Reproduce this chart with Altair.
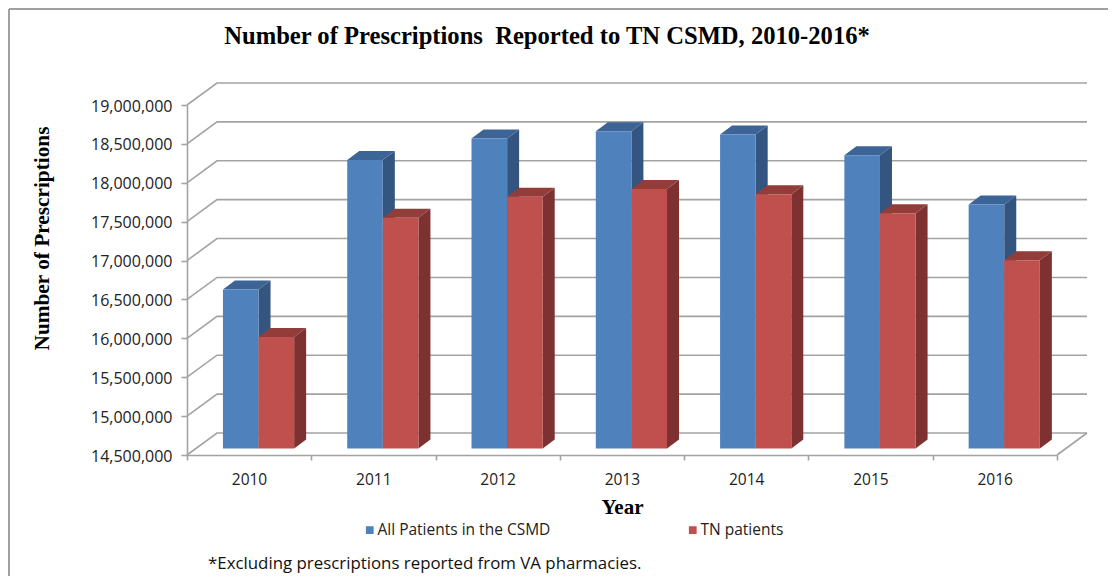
import altair as alt
import pandas as pd

years = [2010, 2011, 2012, 2013, 2014, 2015, 2016]
all_patients = [16543000, 18208000, 18485000, 18580000, 18537000, 18270000, 17638000]
tn_patients = [15933000, 17468000, 17738000, 17835000, 17770000, 17526000, 16920000]
series_names = ["All Patients in the CSMD", "TN patients"]
y_ticks = [14500000 + 500000 * i for i in range(10)]

W, H = 870, 350
Y0, Y1 = 14500000, 19000000
ux = 7 / W              # x units per pixel
uy = (Y1 - Y0) / H      # y units per pixel

# projection depths, pixels
WALL_DX, WALL_DY = 30, 22
PLANE_DX, PLANE_DY = 9.4, 6.5
SIDE_DX, SIDE_DY = 12, 9
BAR_W = 35.6

x_scale = alt.Scale(domain=[0, 7], nice=False, zero=False)
y_scale = alt.Scale(domain=[Y0, Y1], nice=False, zero=False)

grid_rows = []
for t in y_ticks:
    grid_rows += [
        {"line": t, "i": 0, "x": 0, "y": t},
        {"line": t, "i": 1, "x": WALL_DX * ux, "y": t + WALL_DY * uy},
        {"line": t, "i": 2, "x": 7 + WALL_DX * ux, "y": t + WALL_DY * uy},
    ]
grid_rows += [
    {"line": -1, "i": 0, "x": 7, "y": Y0},
    {"line": -1, "i": 1, "x": 7 + WALL_DX * ux, "y": Y0 + WALL_DY * uy},
]
grid_df = pd.DataFrame(grid_rows)

front, side, top = [], [], []
for s, (name, values) in enumerate(zip(series_names, [all_patients, tn_patients])):
    for i, (yr, v) in enumerate(zip(years, values)):
        mid = i + 0.5 + PLANE_DX * ux
        xl = mid + (s - 1) * BAR_W * ux
        xr = xl + BAR_W * ux
        base = Y0 + PLANE_DY * uy
        vt = v + PLANE_DY * uy
        sx, sy = SIDE_DX * ux, SIDE_DY * uy
        front.append({"series": name, "year": yr, "x": xl, "x2": xr, "y": vt, "y2": base})
        key = f"{name}{yr}"
        side += [
            {"series": name, "key": key, "x": xr, "y": vt, "y2": base},
            {"series": name, "key": key, "x": xr + sx, "y": vt + sy, "y2": base + sy},
        ]
        top += [
            {"series": name, "key": key, "x": xl, "y": vt, "y2": vt},
            {"series": name, "key": key, "x": xl + sx, "y": vt, "y2": vt + sy},
            {"series": name, "key": key, "x": xr, "y": vt, "y2": vt + sy},
            {"series": name, "key": key, "x": xr + sx, "y": vt + sy, "y2": vt + sy},
        ]
front_df, side_df, top_df = pd.DataFrame(front), pd.DataFrame(side), pd.DataFrame(top)

GRAY = "#a3a3a3"
SERIF = "Liberation Serif"
SANS = "Open Sans"

x_axis = alt.Axis(
    values=list(range(8)), labelExpr="datum.value < 7 ? toString(2010 + datum.value) : ''",
    labelOffset=62, labelOverlap=False, labelFlush=False, labelBound=False,
    labelFont=SANS, labelFontSize=15.5, labelColor="#222222", labelPadding=12,
    tickSize=5, tickColor=GRAY, tickWidth=1.6, domainColor=GRAY, domainWidth=1.6, grid=False,
    title="Year", titleFont=SERIF, titleFontSize=21, titleFontWeight="bold", titleColor="#000000",
    titleY=58, titleBaseline="alphabetic")
y_axis = alt.Axis(
    values=y_ticks, format=",d", labelFont=SANS, labelFontSize=16, labelColor="#222222",
    labelPadding=9, labelOffset=1, tickSize=6, tickColor=GRAY, tickWidth=1.6, domainColor=GRAY, domainWidth=1.6,
    grid=False, title="Number of Prescriptions", titleFont=SERIF, titleFontSize=21.3,
    titleFontWeight="bold", titleColor="#000000", titleX=-139, titleY=133, titleAngle=270,
    titleAlign="center", titleBaseline="alphabetic")

enc_x = alt.X("x:Q", scale=x_scale, axis=x_axis)
enc_y = alt.Y("y:Q", scale=y_scale, axis=y_axis)

grid = alt.Chart(grid_df).mark_line(color=GRAY, strokeWidth=1.6).encode(
    x=enc_x, y=enc_y, detail="line:N", order="i:Q",
)


def faces(name, side_color, top_color):
    sd = alt.Chart(side_df[side_df.series == name]).mark_area(color=side_color, interpolate="linear").encode(
        x=enc_x, y=enc_y, y2="y2:Q", detail="key:N",
    )
    tp = alt.Chart(top_df[top_df.series == name]).mark_area(color=top_color, interpolate="linear").encode(
        x=enc_x, y=enc_y, y2="y2:Q", detail="key:N",
    )
    fr = alt.Chart(front_df[front_df.series == name]).mark_rect().encode(
        x=enc_x, x2="x2:Q", y=enc_y, y2="y2:Q",
        color=alt.Color("series:N",
                        scale=alt.Scale(domain=series_names, range=["#4f81bd", "#c0504d"]),
                        legend=alt.Legend(orient="none", legendX=175, legendY=417, direction="horizontal",
                                          columns=2, columnPadding=134, title=None, symbolType="square",
                                          symbolSize=60, symbolStrokeWidth=0, labelFont=SANS, labelFontSize=15.5,
                                          labelColor="#222222", labelOffset=0, labelLimit=300)),
    )
    return [sd, tp, fr]


foot = alt.Chart(pd.DataFrame({"t": ["*Excluding prescriptions reported from VA pharmacies."]})).mark_text(
    font=SANS, fontSize=16.85, align="left", baseline="alphabetic", color="#111111"
).encode(text="t:N", x=alt.value(21), y=alt.value(464))

frame_h = alt.Chart(pd.DataFrame({"a": [0]})).mark_rule(color="#a0a0a0", strokeWidth=2).encode(
    x=alt.value(-178), x2=alt.value(921), y=alt.value(-96))
frame_v = alt.Chart(pd.DataFrame({"a": [0]})).mark_rule(color="#a0a0a0", strokeWidth=2).encode(
    x=alt.value(-178), y=alt.value(-96), y2=alt.value(473))

chart = alt.layer(
    grid, *faces(series_names[0], "#34557f", "#3c6496"), *faces(series_names[1], "#7d3130", "#933d3b"),
    foot, frame_h, frame_v,
).properties(
    width=W, height=H,
    padding={"left": 179, "top": 97, "right": 51, "bottom": 121},
    autosize=alt.AutoSizeParams(type="none"),
    title=alt.TitleParams("Number of Prescriptions\u00a0 Reported to TN CSMD, 2010-2016*", font=SERIF, fontSize=24.6,
                          fontWeight="bold", color="#000000", anchor="middle", dx=-75, dy=46),
).configure_view(stroke=None)

chart.save("out.html", embed_options={"renderer": "svg", "actions": False})
